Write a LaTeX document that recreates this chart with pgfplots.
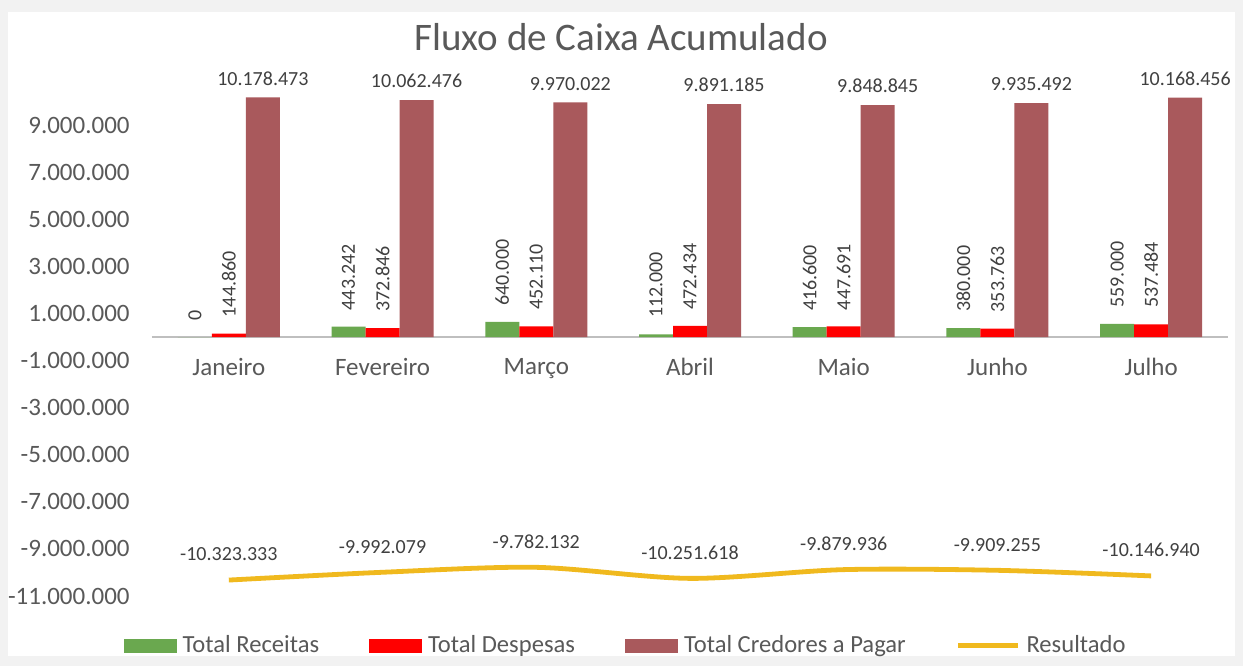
\documentclass[border=0pt]{standalone}
\usepackage{fontspec}
\setmainfont{Carlito}
\usepackage{pgfplots}
\usepackage{pgfplotstable}
\pgfplotsset{compat=1.18}
\definecolor{cgreen}{RGB}{106,168,79}
\definecolor{cred}{RGB}{255,0,0}
\definecolor{cbrown}{RGB}{169,89,92}
\definecolor{cgold}{RGB}{240,185,30}
\definecolor{txt}{RGB}{89,89,89}
\definecolor{lbl}{RGB}{64,64,64}
\definecolor{bgg}{RGB}{242,242,242}
\definecolor{axisg}{RGB}{191,191,191}
\pgfplotstableread{
x rec desp cred res
0 0 144860 10178473 -10323333
1 443242 372846 10062476 -9992079
2 640000 452110 9970022 -9782132
3 112000 472434 9891185 -10251618
4 416600 447691 9848845 -9879936
5 380000 353763 9935492 -9909255
6 559000 537484 10168456 -10146940
}\data
\newcommand{\numlbl}{\pgfmathprintnumber[fixed,precision=0,1000 sep={.},assume math mode=true]{\pgfplotspointmeta}}
\begin{document}
\begin{tikzpicture}
\useasboundingbox (0,0) rectangle (621.5pt,333pt);
\fill[bgg] (0,0) rectangle (621.5pt,333pt);
\fill[white] (4pt,5pt) rectangle (617.5pt,327pt);
\begin{axis}[
  at={(76pt,35pt)}, anchor=south west,
  scale only axis, width=538pt, height=259pt,
  xmin=-0.5, xmax=6.5, ymin=-11000000, ymax=11000000,
  axis x line=middle, axis y line=left,
  x axis line style={-, draw=axisg, line width=0.7pt},
  y axis line style={draw=none},
  tick style={draw=none},
  scaled y ticks=false,
  xtick={0,1,2,3,4,5,6},
  xticklabels={Janeiro,Fevereiro,Março,Abril,Maio,Junho,Julho},
  ytick={-11000000,-9000000,-7000000,-5000000,-3000000,-1000000,1000000,3000000,5000000,7000000,9000000},
  yticklabels={-11.000.000,-9.000.000,-7.000.000,-5.000.000,-3.000.000,-1.000.000,1.000.000,3.000.000,5.000.000,7.000.000,9.000.000},
  xticklabel style={font=\fontsize{12.5}{14}\selectfont, text=txt, yshift=-5pt},
  yticklabel style={font=\fontsize{12.5}{14}\selectfont, text=txt, xshift=-5.5pt},
  clip=false,
  title={Fluxo de Caixa Acumulado},
  title style={at={(0.436,1.056)}, anchor=center, font=\fontsize{19.5}{22}\selectfont, text=txt},
  legend columns=4,
  legend style={at={(0.442,-0.096)}, anchor=center, draw=none, fill=none,
    font=\fontsize{12.3}{14}\selectfont, text=txt,
    /tikz/every even column/.append style={column sep=22pt},
    nodes={inner xsep=3pt}},
]
\addplot[ybar, bar width=17pt, bar shift=-17pt, fill=cgreen, draw=none,
  legend image code/.code={\fill[cgreen] (0pt,-3.6pt) rectangle (26.5pt,3.6pt);},
  nodes near coords=\numlbl,
  nodes near coords style={xshift=-17pt, rotate=90, anchor=west, inner xsep=8pt, font=\fontsize{10}{12}\selectfont, text=lbl}]
  table[x=x,y=rec]{\data};
\addplot[ybar, bar width=17pt, bar shift=0pt, fill=cred, draw=none,
  legend image code/.code={\fill[cred] (0pt,-3.6pt) rectangle (26.5pt,3.6pt);},
  nodes near coords=\numlbl,
  nodes near coords style={rotate=90, anchor=west, inner xsep=8pt, font=\fontsize{10}{12}\selectfont, text=lbl}]
  table[x=x,y=desp]{\data};
\addplot[ybar, bar width=17pt, bar shift=17pt, fill=cbrown, draw=none,
  legend image code/.code={\fill[cbrown] (0pt,-3.6pt) rectangle (26.5pt,3.6pt);},
  nodes near coords=\numlbl,
  nodes near coords style={xshift=17pt, anchor=south, yshift=2.5pt, font=\fontsize{10}{12}\selectfont, text=lbl}]
  table[x=x,y=cred]{\data};
\addplot[smooth, draw=cgold, line width=2.4pt, mark=none,
  legend image code/.code={\draw[cgold, line width=2.4pt] (0pt,0pt) -- (30pt,0pt);},
  nodes near coords=\numlbl,
  nodes near coords style={anchor=south, yshift=5pt, font=\fontsize{10}{12}\selectfont, text=lbl}]
  table[x=x,y=res]{\data};
\legend{Total Receitas, Total Despesas, Total Credores a Pagar, Resultado}
\end{axis}
\end{tikzpicture}
\end{document}
